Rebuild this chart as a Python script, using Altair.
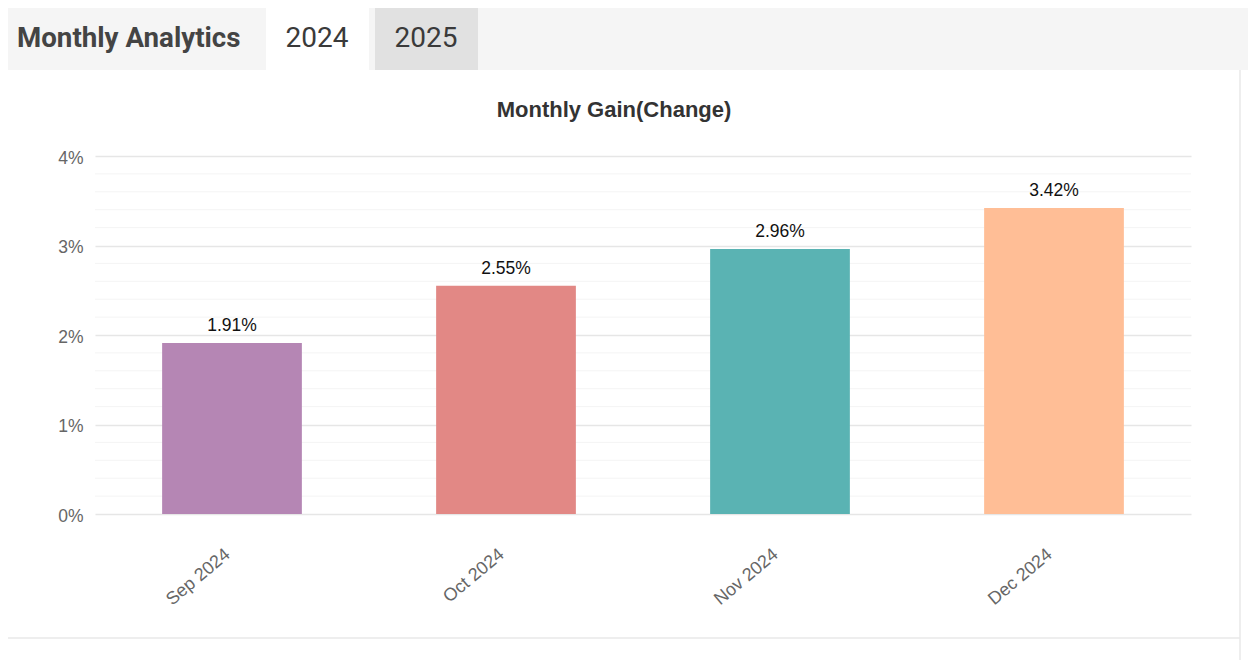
import altair as alt
import pandas as pd

# ---- data ----
months = ["Sep 2024", "Oct 2024", "Nov 2024", "Dec 2024"]
gains = [1.91, 2.55, 2.96, 3.42]
bar_colors = ["#b586b4", "#e28885", "#5ab3b3", "#ffbe96"]
major_ticks = [0, 1, 2, 3, 4]
minor_grid = [0.2, 0.4, 0.6, 0.8, 1.2, 1.4, 1.6, 1.8,
              2.2, 2.4, 2.6, 2.8, 3.2, 3.4, 3.6, 3.8]
header_title = "Monthly Analytics"
tab_labels = ["2024", "2025"]
chart_title = "Monthly Gain(Change)"

W, H = 1096, 358
PAD = {"left": 87, "top": 148, "right": 57, "bottom": 146}

FONT = "Liberation Sans, Arial, Helvetica, sans-serif"
UI_FONT = "Roboto, sans-serif"

bars_df = pd.DataFrame({
    "month": months,
    "gain": gains,
    "label": [f"{g:.2f}%" for g in gains],
})
minor_df = pd.DataFrame({"gain": minor_grid})
one = pd.DataFrame({"k": [0]})

y_scale = alt.Scale(domain=[0, 4], nice=False)
y_axis = alt.Axis(
    values=major_ticks, title=None, labelExpr="datum.value + '%'",
    domain=False, ticks=False, gridColor="#e6e6e6", gridWidth=1.5,
    labelFontSize=17.5, labelColor="#666666", labelFont=FONT, labelPadding=12,
    labelOffset=2,
)
x_enc = alt.X(
    "month:N",
    sort=months,
    scale=alt.Scale(paddingInner=0.49, paddingOuter=0.245),
    axis=alt.Axis(
        title=None, labelAngle=-40, labelAlign="right", labelBaseline="middle",
        labelPadding=38, labelOffset=-4, domain=False, ticks=False,
        labelFontSize=18, labelColor="#666666", labelFont=FONT,
    ),
)

minor = alt.Chart(minor_df).mark_rule(color="#f4f4f4", strokeWidth=1).encode(
    y=alt.Y("gain:Q", scale=y_scale, axis=y_axis)
)

bars = alt.Chart(bars_df).mark_bar().encode(
    x=x_enc,
    y=alt.Y("gain:Q", scale=y_scale, axis=y_axis),
    color=alt.Color("month:N", scale=alt.Scale(domain=months, range=bar_colors), legend=None),
)

labels = alt.Chart(bars_df).mark_text(
    baseline="bottom", dy=-8, fontSize=17.5, color="#111111", font=FONT
).encode(x=alt.X("month:N", sort=months), y=alt.Y("gain:Q", scale=y_scale), text="label:N")

# ---- decorations (page header, tabs, card borders) ----
header_bg = alt.Chart(one).mark_rect(color="#f5f5f5").encode(
    x=alt.value(-87), x2=alt.value(1153), y=alt.value(-148), y2=alt.value(-86)
)
tab1_bg = alt.Chart(one).mark_rect(color="#ffffff").encode(
    x=alt.value(171), x2=alt.value(274), y=alt.value(-148), y2=alt.value(-86)
)
tab2_bg = alt.Chart(one).mark_rect(color="#e1e1e1").encode(
    x=alt.value(280), x2=alt.value(383), y=alt.value(-148), y2=alt.value(-86)
)
header_text = alt.Chart(one).mark_text(
    align="left", baseline="middle", font=UI_FONT, fontSize=27.7,
    fontWeight="bold", color="#444444"
).encode(text=alt.value(header_title), x=alt.value(-78), y=alt.value(-117))
tab1_text = alt.Chart(one).mark_text(
    align="center", baseline="middle", font=UI_FONT, fontSize=28, color="#3a3a3a"
).encode(text=alt.value(tab_labels[0]), x=alt.value(222), y=alt.value(-117))
tab2_text = alt.Chart(one).mark_text(
    align="center", baseline="middle", font=UI_FONT, fontSize=28, color="#3a3a3a"
).encode(text=alt.value(tab_labels[1]), x=alt.value(331), y=alt.value(-117))
title_text = alt.Chart(one).mark_text(
    align="center", baseline="middle", font=FONT, fontSize=22,
    fontWeight="bold", color="#333333"
).encode(text=alt.value(chart_title), x=alt.value(519), y=alt.value(-46))
bottom_line = alt.Chart(one).mark_rule(color="#e8e8e8", strokeWidth=1.5).encode(
    x=alt.value(-87), x2=alt.value(1145), y=alt.value(482)
)
right_line = alt.Chart(one).mark_rule(color="#e8e8e8", strokeWidth=1.5).encode(
    x=alt.value(1145), y=alt.value(-86), y2=alt.value(504)
)

chart = alt.layer(
    header_bg, tab1_bg, tab2_bg, header_text, tab1_text, tab2_text, title_text,
    bottom_line, right_line, minor, bars, labels,
).properties(
    width=W, height=H,
    autosize=alt.AutoSizeParams(type="none"),
    padding=PAD,
    background="#ffffff",
).configure_view(stroke=None)

chart.save("out.html", embed_options={"renderer": "svg", "actions": False})
